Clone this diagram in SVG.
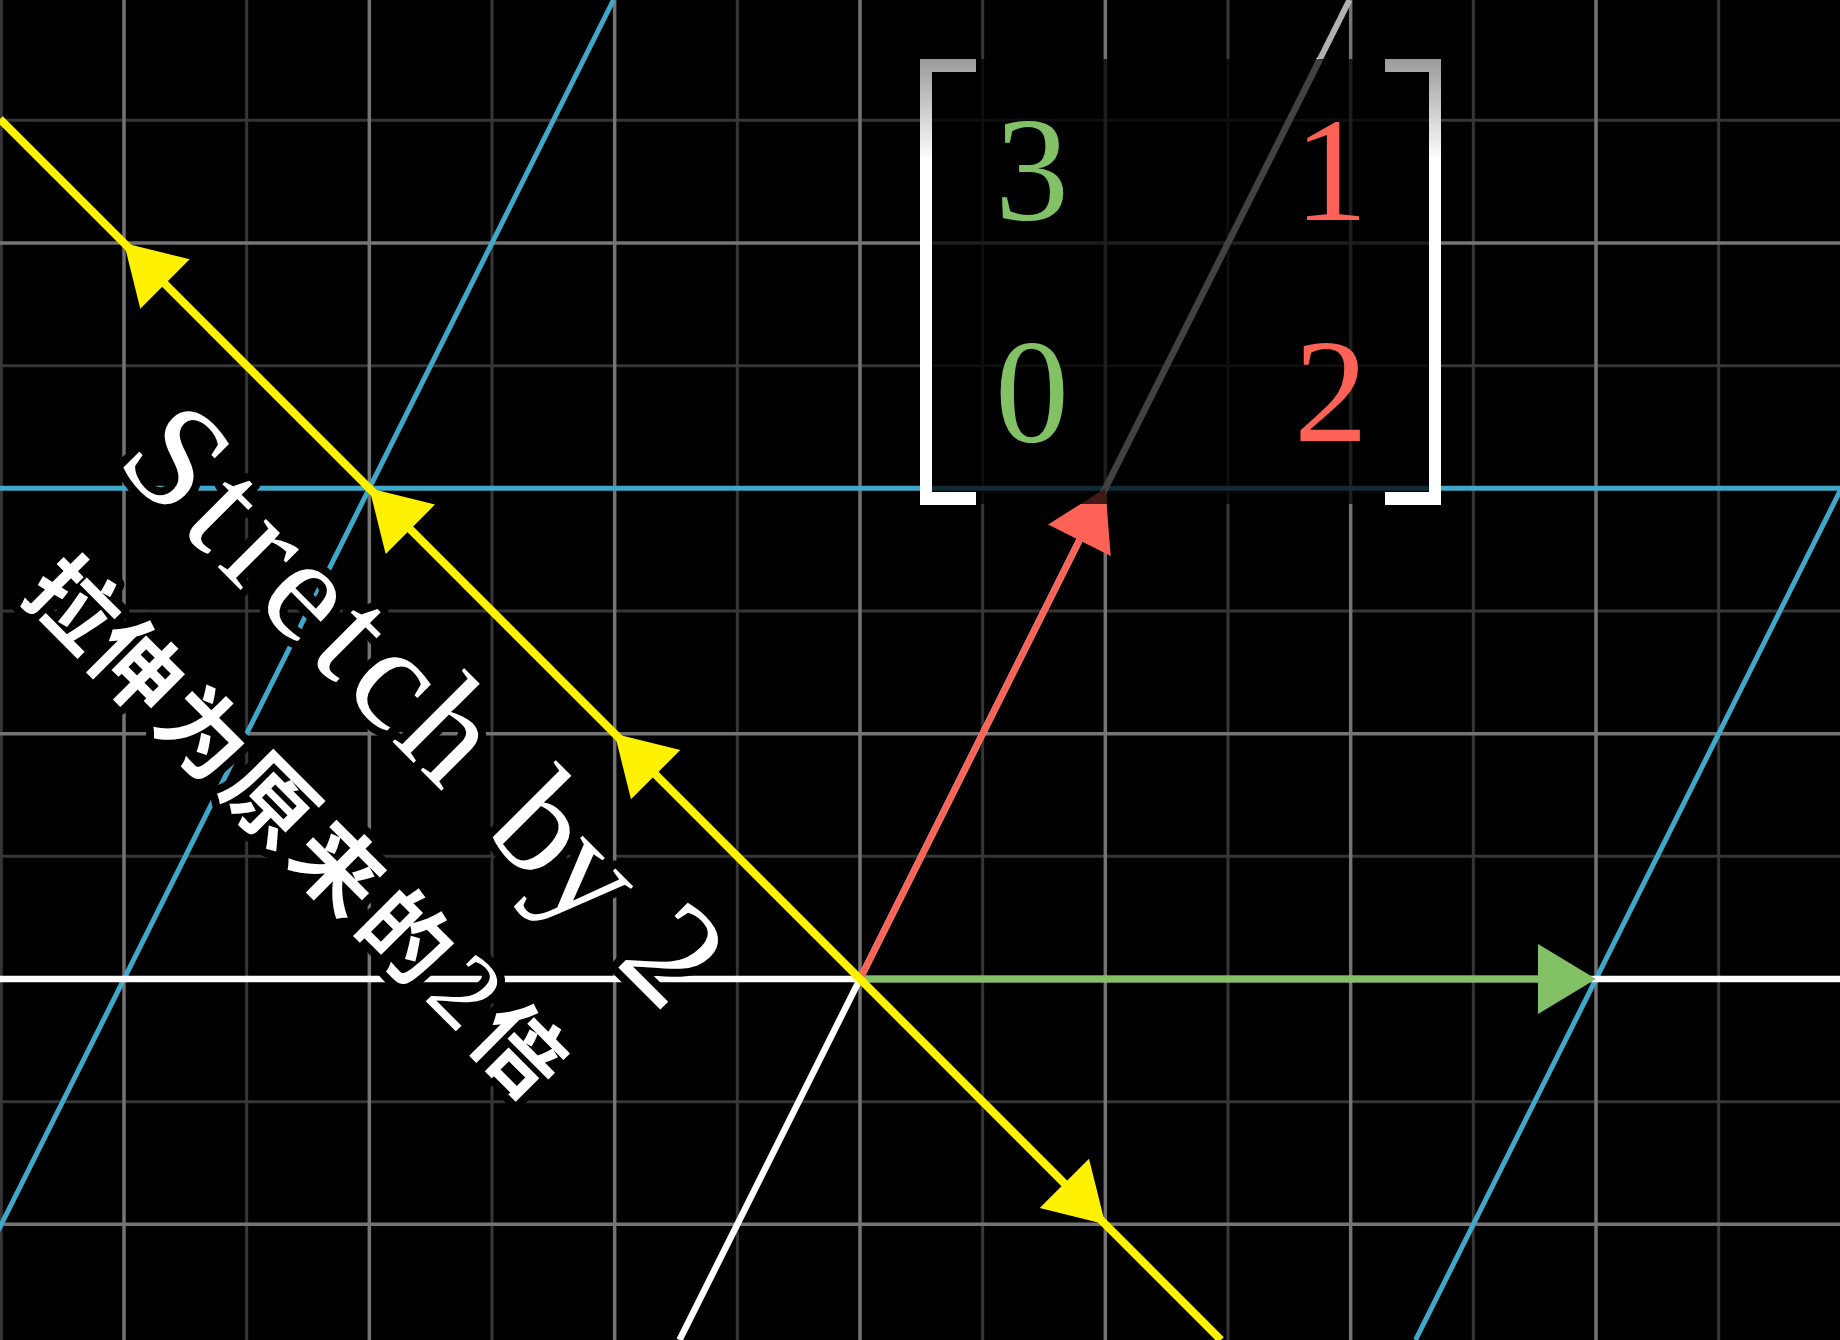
<svg xmlns="http://www.w3.org/2000/svg" width="1840" height="1340" viewBox="0 0 1840 1340">
<defs>
<style>
.minor{stroke:#363636;stroke-width:3;fill:none}
.major{stroke:#747474;stroke-width:3.5;fill:none}
.blue{stroke:#3fa8cb;stroke-width:5;fill:none}
.white{stroke:#ffffff;stroke-width:6.5;fill:none}
.yel{stroke:#fff200;stroke-width:8;fill:none}
.yelh{fill:#fff200}
.lbl{fill:#ffffff;stroke:#000;stroke-width:16;stroke-linejoin:round;paint-order:stroke fill}
.num{font-family:"Liberation Serif","DejaVu Serif",serif;font-size:148px;text-anchor:middle}
</style>
<linearGradient id="brk" gradientUnits="userSpaceOnUse" x1="0" y1="59" x2="0" y2="160">
<stop offset="0" stop-color="#9a9a9a"/>
<stop offset="1" stop-color="#ffffff"/>
</linearGradient>
</defs>
<rect width="1840" height="1340" fill="#000"/>
<g id="grid">
<path class="minor" d="M1.33 0V1340M246.67 0V1340M492 0V1340M737.33 0V1340M982.67 0V1340M1228 0V1340M1473.33 0V1340M1718.67 0V1340M0 120.33H1840M0 365.67H1840M0 611H1840M0 856.33H1840M0 1101.67H1840"/>
<path class="major" d="M124 0V1340M369.33 0V1340M614.67 0V1340M860 0V1340M1105.33 0V1340M1350.67 0V1340M1596 0V1340M0 243H1840M0 733.67H1840M0 1224.33H1840"/>
</g>
<g id="transformed-grid">
<path class="blue" d="M0 488.33H1840M613.5 0L-56.5 1340M2085.5 0L1415.5 1340"/>
<path class="white" d="M0 979H1840M1320 59L679.5 1340"/>
<line x1="1320" y1="59" x2="1349.5" y2="0" stroke="#b0b0b0" stroke-width="6"/>
</g>
<g id="connectors">
<g id="vector-i">
<line x1="860" y1="979" x2="1540" y2="979" stroke="#83c167" stroke-width="7"/>
<polygon points="1596,979 1538,944 1538,1014" fill="#83c167"/>
</g>
<g id="vector-j">
<line x1="860" y1="979" x2="1080.5" y2="538" stroke="#fc6255" stroke-width="6.5"/>
<polygon points="1105.33,488.33 1110.7,555.9 1048.1,524.6" fill="#fc6255"/>
</g>
<g id="eigenline">
<line class="yel" x1="0" y1="119" x2="1221" y2="1340"/>
<polygon class="yelh" points="124,243 189.7,259.3 140.3,308.7"/>
<polygon class="yelh" points="369.33,488.33 435,504.6 385.7,554"/>
<polygon class="yelh" points="614.67,733.67 680.3,750 631,799.3"/>
<polygon class="yelh" points="1105.33,1224.33 1039.7,1208 1089,1158.7"/>
</g>
</g>
<g id="matrix">
<rect x="920" y="59" width="521" height="445" fill="#000" fill-opacity="0.74"/>
<path fill="url(#brk)" d="M920 59H976V72H932V492H976V505H920Z"/>
<path fill="url(#brk)" d="M1441 59H1385V72H1429V492H1385V505H1441Z"/>
<text class="num" x="1032" y="220" fill="#83c167">3</text>
<text class="num" x="1331" y="220" fill="#fc6255">1</text>
<text class="num" x="1032" y="442" fill="#83c167">0</text>
<text class="num" x="1331" y="441" fill="#fc6255">2</text>
</g>
<g id="label-en" transform="rotate(45)">
<text class="lbl" font-family="Liberation Serif, DejaVu Serif, serif" font-size="148" text-anchor="middle" x="449.1 519 576.8 638.7 700.4 762.1 836.1 901.8 967.6 1038 1100 1152" y="247">Stretch by 2</text>
</g>
<g id="label-zh" transform="rotate(45)">
<text class="lbl" font-family="Noto Sans CJK SC, sans-serif" font-size="88" font-weight="700" text-anchor="middle" y="407"><tspan x="479 568 662 757 853 949">拉伸为原来的</tspan><tspan x="1031" font-family="Liberation Serif, serif" font-weight="400" font-size="106">2</tspan><tspan x="1110">倍</tspan></text>
</g>
</svg>
